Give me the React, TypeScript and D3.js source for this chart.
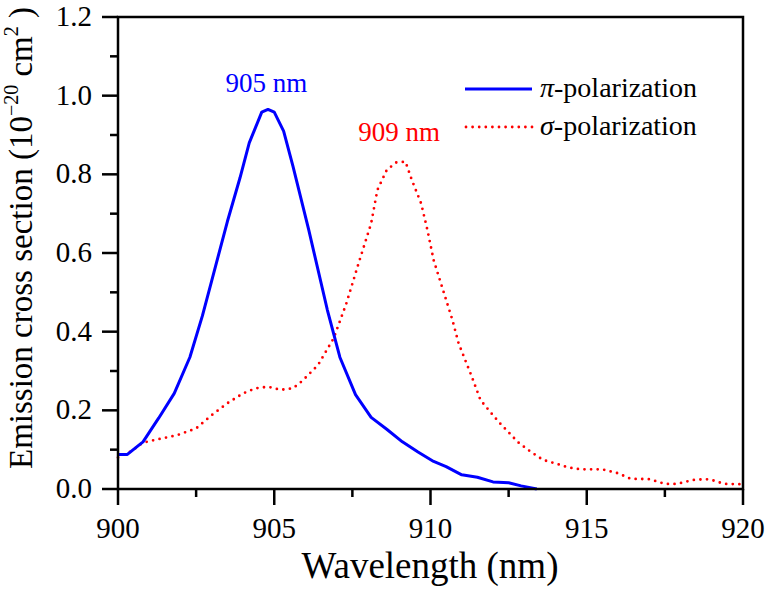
import React from 'react';
import * as d3 from 'd3';

// wavelength (nm) / emission cross section (1e-20 cm^2)
const piWavelength = [900.0, 900.3, 900.8, 901.3, 901.8, 902.3, 902.7, 903.0, 903.5, 903.9, 904.2, 904.6, 904.8, 905.0, 905.3, 905.6, 906.1, 906.7, 907.1, 907.6, 908.1, 908.6, 909.1, 909.6, 910.1, 910.5, 911.0, 911.5, 912.0, 912.5, 912.9, 913.4];
const piValues = [0.088, 0.088, 0.12, 0.18, 0.243, 0.335, 0.44, 0.53, 0.68, 0.79, 0.88, 0.958, 0.965, 0.958, 0.91, 0.82, 0.66, 0.455, 0.335, 0.24, 0.182, 0.152, 0.12, 0.094, 0.07, 0.057, 0.036, 0.03, 0.018, 0.016, 0.008, 0.0];

const sigmaWavelength = [900.0, 900.4, 900.8, 901.2, 901.9, 902.5, 903.0, 903.5, 904.0, 904.4, 904.8, 905.2, 905.6, 905.9, 906.4, 906.9, 907.3, 907.7, 908.1, 908.3, 908.6, 908.9, 909.2, 909.4, 909.7, 909.9, 910.1, 910.4, 910.7, 910.9, 911.3, 911.6, 911.9, 912.2, 912.5, 912.8, 913.2, 913.6, 914.0, 914.4, 914.8, 915.3, 915.5, 916.0, 916.4, 917.0, 917.5, 917.9, 918.4, 918.8, 919.0, 919.4, 920.0];
const sigmaValues = [0.08, 0.095, 0.118, 0.125, 0.137, 0.154, 0.188, 0.218, 0.243, 0.256, 0.26, 0.252, 0.256, 0.275, 0.315, 0.383, 0.47, 0.574, 0.675, 0.76, 0.811, 0.83, 0.832, 0.786, 0.726, 0.659, 0.582, 0.506, 0.43, 0.37, 0.29, 0.226, 0.197, 0.169, 0.144, 0.119, 0.095, 0.074, 0.065, 0.055, 0.05, 0.05, 0.05, 0.04, 0.026, 0.025, 0.013, 0.013, 0.023, 0.025, 0.023, 0.013, 0.012];

const xTicks = [900, 905, 910, 915, 920];
const xMinorTicks = [902.5, 907.5, 912.5, 917.5];
const yTicks = [0, 0.2, 0.4, 0.6, 0.8, 1.0, 1.2];
const yMinorTicks = [0.1, 0.3, 0.5, 0.7, 0.9, 1.1];

const seriesNames = ['π', 'σ'];
const peakLabels = ['905 nm', '909 nm'];

const W = 770, H = 594;
const FONT = "Liberation Serif, DejaVu Serif, serif";

export default function App() {
  const x = d3.scaleLinear().domain([900, 920]).range([118, 743]);
  const y = d3.scaleLinear().domain([0, 1.2]).range([489, 17]);

  const line = d3.line<[number, number]>()
    .x((d) => x(d[0]))
    .y((d) => y(d[1]));

  const piPath = line(piWavelength.map((w, i) => [w, piValues[i]]));
  const sigmaPath = line(sigmaWavelength.map((w, i) => [w, sigmaValues[i]]));

  const [x0, x1] = x.range();
  const [y0, y1] = y.range();

  return (
    <svg width={W} height={H} style={{ position: 'absolute', left: 0, top: 0, background: 'white' }}>
      {/* curves */}
      <path d={sigmaPath} fill="none" stroke="#ff0000" strokeWidth={2.8} strokeDasharray="0 6.6" strokeLinecap="round" />
      <path d={piPath} fill="none" stroke="#0000ff" strokeWidth={3} strokeLinejoin="round" />

      {/* frame */}
      <rect x={x0} y={y1} width={x1 - x0} height={y0 - y1} fill="none" stroke="#000" strokeWidth={2.5} />

      <g fontFamily={FONT}>
        {/* x ticks */}
        {xTicks.map((t) => (
          <g key={'xt' + t}>
            <line x1={x(t)} x2={x(t)} y1={y0} y2={y0 + 16} stroke="#000" strokeWidth={2.5} />
            <text x={x(t)} y={538} textAnchor="middle" fontSize={29}>{t}</text>
          </g>
        ))}
        {xMinorTicks.map((t) => (
          <line key={'xm' + t} x1={x(t)} x2={x(t)} y1={y0} y2={y0 + 8} stroke="#000" strokeWidth={2.5} />
        ))}

        {/* y ticks */}
        {yTicks.map((t) => (
          <g key={'yt' + t}>
            <line x1={x0 - 16} x2={x0} y1={y(t)} y2={y(t)} stroke="#000" strokeWidth={2.5} />
            <text x={92} y={y(t) + 9} textAnchor="end" fontSize={29}>{t.toFixed(1)}</text>
          </g>
        ))}
        {yMinorTicks.map((t) => (
          <line key={'ym' + t} x1={x0 - 8} x2={x0} y1={y(t)} y2={y(t)} stroke="#000" strokeWidth={2.5} />
        ))}

        {/* axis titles */}
        <text x={430} y={578} textAnchor="middle" fontSize={37}>Wavelength (nm)</text>
        <text transform={`translate(32,${238}) rotate(-90)`} textAnchor="middle" fontSize={33}>
          Emission cross section (10
          <tspan fontSize={20} dy={-14}>−20</tspan>
          <tspan dy={14}> cm</tspan>
          <tspan fontSize={20} dy={-14}>2</tspan>
          <tspan dy={14}> )</tspan>
        </text>

        {/* peak labels */}
        <text x={x(904.75)} y={92} textAnchor="middle" fontSize={27} fill="#0000ff">{peakLabels[0]}</text>
        <text x={x(909.0)} y={141} textAnchor="middle" fontSize={27} fill="#ff0000">{peakLabels[1]}</text>

        {/* legend */}
        <line x1={465} x2={532} y1={89} y2={89} stroke="#0000ff" strokeWidth={3} />
        <text x={540} y={97} fontSize={28}>
          <tspan fontStyle="italic">{seriesNames[0]}</tspan>-polarization
        </text>
        <line x1={466} x2={532} y1={127} y2={127} stroke="#ff0000" strokeWidth={2.8} strokeDasharray="0 6.6" strokeLinecap="round" />
        <text x={540} y={135} fontSize={28}>
          <tspan fontStyle="italic">{seriesNames[1]}</tspan>-polarization
        </text>
      </g>
    </svg>
  );
}
